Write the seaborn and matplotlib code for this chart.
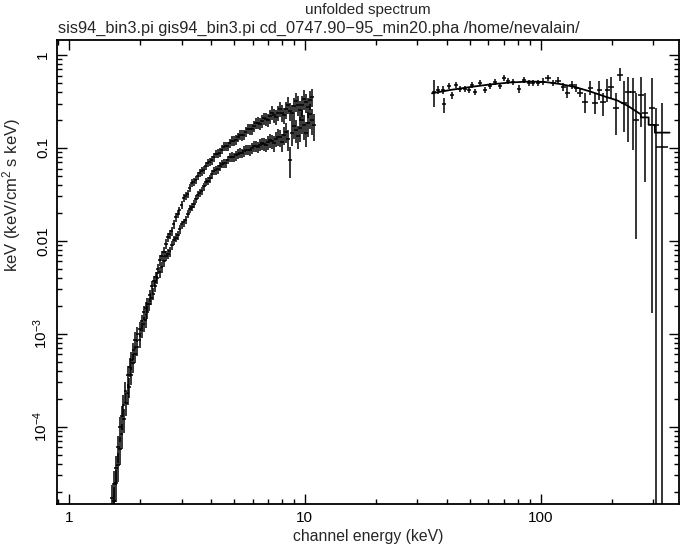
import numpy as np
import matplotlib
matplotlib.use("Agg")
import matplotlib.pyplot as plt
import matplotlib.ticker as mticker
import seaborn as sns

# SIS spectrum (upper band), energy in keV, flux in keV^2/(cm^2 s keV)
sis0_e = [1.52, 1.58, 1.64, 1.70, 1.77, 1.84, 1.91, 1.99, 2.07, 2.15,
          2.24, 2.33, 2.42, 2.52, 2.62, 2.72, 2.83, 2.94, 3.06, 3.18,
          3.31, 3.44, 3.58, 3.72, 3.87, 4.02, 4.18, 4.35, 4.52, 4.70,
          4.89, 5.09, 5.29, 5.50, 5.72, 5.95, 6.19, 6.44, 6.70, 6.96,
          7.24, 7.53, 7.83, 8.15, 8.47, 8.81, 9.16, 9.53, 9.91, 10.3, 10.7]
sis0_f = [1.7e-5, 3.6e-5, 9.8e-5, 1.72e-4, 3.6e-4, 5.2e-4, 8.6e-4, 1.12e-3, 1.70e-3, 2.08e-3,
          3.25e-3, 4.10e-3, 6.2e-3, 7.6e-3, 0.0109, 0.0128, 0.0180, 0.0212, 0.0290, 0.0322,
          0.0418, 0.0450, 0.0540, 0.0575, 0.0690, 0.0735, 0.0865, 0.0890, 0.1030, 0.1040,
          0.1190, 0.1215, 0.1380, 0.1390, 0.1610, 0.1600, 0.1840, 0.1830, 0.2080, 0.2010,
          0.2400, 0.2150, 0.2650, 0.2250, 0.2900, 0.2350, 0.3200, 0.2550, 0.3400, 0.2750, 0.3500]
sis0_rel = [0.40, 0.35, 0.30, 0.27, 0.25, 0.22, 0.20, 0.18, 0.17, 0.16,
            0.15, 0.14, 0.13, 0.12, 0.12, 0.11, 0.11, 0.10, 0.10, 0.10,
            0.10, 0.10, 0.10, 0.10, 0.10, 0.10, 0.11, 0.11, 0.11, 0.11,
            0.12, 0.12, 0.12, 0.13, 0.13, 0.14, 0.14, 0.15, 0.15, 0.16,
            0.17, 0.18, 0.19, 0.20, 0.21, 0.22, 0.23, 0.24, 0.25, 0.24, 0.22]
sis1_e = [1.55, 1.61, 1.67, 1.735, 1.805, 1.875, 1.95, 2.03, 2.11, 2.195,
          2.285, 2.375, 2.47, 2.57, 2.67, 2.775, 2.885, 3.00, 3.12, 3.245,
          3.375, 3.51, 3.65, 3.795, 3.945, 4.10, 4.265, 4.435, 4.61, 4.795,
          4.99, 5.19, 5.395, 5.61, 5.835, 6.07, 6.315, 6.57, 6.83, 7.10,
          7.385, 7.68, 7.99, 8.31, 8.64, 8.98, 9.34, 9.72, 10.1, 10.5]
sis1_f = [2.4e-5, 6.0e-5, 1.30e-4, 2.4e-4, 4.4e-4, 6.6e-4, 1.0e-3, 1.36e-3, 1.90e-3, 2.60e-3,
          3.7e-3, 5.0e-3, 6.9e-3, 9.3e-3, 0.0118, 0.0152, 0.0195, 0.0245, 0.0305, 0.0370,
          0.0430, 0.0500, 0.0560, 0.0640, 0.0710, 0.0800, 0.0870, 0.0960, 0.1040, 0.1120,
          0.1200, 0.1300, 0.1380, 0.1500, 0.1590, 0.1720, 0.1860, 0.1950, 0.2050, 0.2200,
          0.2250, 0.2400, 0.2400, 0.2600, 0.2500, 0.2800, 0.2900, 0.2900, 0.3100, 0.3300]
sis1_rel = [0.38, 0.33, 0.29, 0.26, 0.23, 0.21, 0.19, 0.18, 0.16, 0.15,
            0.14, 0.13, 0.13, 0.12, 0.11, 0.11, 0.10, 0.10, 0.10, 0.10,
            0.10, 0.10, 0.10, 0.10, 0.10, 0.11, 0.11, 0.11, 0.11, 0.12,
            0.12, 0.12, 0.13, 0.13, 0.14, 0.14, 0.15, 0.15, 0.16, 0.17,
            0.18, 0.19, 0.20, 0.21, 0.22, 0.23, 0.24, 0.25, 0.24, 0.23]

# GIS spectrum (lower band)
gis2_e = [1.55, 1.61, 1.67, 1.74, 1.80, 1.87, 1.95, 2.03, 2.11, 2.19,
          2.28, 2.37, 2.47, 2.57, 2.67, 2.78, 2.89, 3.00, 3.12, 3.25,
          3.38, 3.51, 3.65, 3.80, 3.95, 4.10, 4.27, 4.44, 4.61, 4.80,
          4.99, 5.19, 5.40, 5.61, 5.84, 6.07, 6.31, 6.57, 6.83, 7.10,
          7.38, 7.68, 7.99, 8.31, 8.64, 8.98, 9.34, 9.72, 10.1, 10.5, 10.9]
gis2_f = [1.6e-5, 3.9e-5, 8.3e-5, 1.80e-4, 2.7e-4, 4.9e-4, 7.2e-4, 1.10e-3, 1.40e-3, 2.10e-3,
          2.70e-3, 4.00e-3, 5.20e-3, 6.90e-3, 7.7e-3, 0.0102, 0.0116, 0.0150, 0.0168, 0.0221,
          0.0250, 0.0312, 0.0345, 0.0428, 0.0470, 0.0570, 0.0592, 0.0675, 0.0690, 0.0790,
          0.0795, 0.0870, 0.0875, 0.0955, 0.0950, 0.1040, 0.1020, 0.1120, 0.1070, 0.1210,
          0.1120, 0.1320, 0.1150, 0.1500, 0.0750, 0.1700, 0.1350, 0.2000, 0.1450, 0.2300, 0.1750]
gis2_rel = [0.40, 0.35, 0.30, 0.27, 0.25, 0.22, 0.20, 0.18, 0.17, 0.16,
            0.15, 0.14, 0.13, 0.12, 0.12, 0.11, 0.11, 0.10, 0.10, 0.10,
            0.10, 0.10, 0.10, 0.10, 0.10, 0.10, 0.11, 0.11, 0.11, 0.11,
            0.12, 0.12, 0.12, 0.13, 0.13, 0.14, 0.14, 0.15, 0.16, 0.17,
            0.19, 0.20, 0.22, 0.24, 0.36, 0.26, 0.28, 0.29, 0.30, 0.30, 0.32]
gis3_e = [1.58, 1.64, 1.705, 1.77, 1.835, 1.91, 1.99, 2.07, 2.15, 2.235,
          2.325, 2.42, 2.52, 2.62, 2.725, 2.835, 2.945, 3.06, 3.185, 3.315,
          3.445, 3.58, 3.725, 3.875, 4.025, 4.185, 4.355, 4.525, 4.705, 4.895,
          5.09, 5.295, 5.505, 5.725, 5.955, 6.19, 6.44, 6.70, 6.965, 7.24,
          7.53, 7.835, 8.15, 8.475, 8.81, 9.16, 9.53, 9.91, 10.3, 10.7]
gis3_f = [2.5e-5, 5.8e-5, 1.20e-4, 2.3e-4, 3.6e-4, 6.1e-4, 8.6e-4, 1.28e-3, 1.70e-3, 2.40e-3,
          3.30e-3, 4.6e-3, 6.0e-3, 7.3e-3, 9.0e-3, 0.0108, 0.0133, 0.0158, 0.0195, 0.0232,
          0.0282, 0.0330, 0.0385, 0.0445, 0.0520, 0.0580, 0.0640, 0.0680, 0.0745, 0.0800,
          0.0830, 0.0880, 0.0920, 0.0960, 0.0990, 0.1040, 0.1080, 0.1100, 0.1150, 0.1180,
          0.1250, 0.1300, 0.1380, 0.1250, 0.1450, 0.1550, 0.1650, 0.1750, 0.1850, 0.2000]
gis3_rel = [0.38, 0.33, 0.29, 0.26, 0.23, 0.21, 0.19, 0.18, 0.16, 0.15,
            0.14, 0.13, 0.13, 0.12, 0.11, 0.11, 0.10, 0.10, 0.10, 0.10,
            0.10, 0.10, 0.10, 0.10, 0.10, 0.11, 0.11, 0.11, 0.11, 0.12,
            0.12, 0.12, 0.13, 0.13, 0.14, 0.14, 0.15, 0.16, 0.17, 0.18,
            0.19, 0.21, 0.23, 0.25, 0.27, 0.28, 0.29, 0.30, 0.30, 0.31]

# hard X-ray spectrum (cd_0747.90-95_min20.pha)
hard_e = [35.3, 36.7, 38.6, 38.9, 40.7, 42.1, 43.8, 45.5, 47.8, 49.8,
          51.0, 52.7, 55.3, 58.1, 61.0, 64.1, 67.3, 70.0, 72.8, 76.4,
          81.0, 85.1, 89.3, 92.9, 97.5, 102.3, 107.5, 112.9, 118.5, 124.5,
          129.4, 135.8, 141.3, 146.9, 154.3, 162.1, 170.1, 176.9, 183.9, 191.3,
          198.9, 208.9, 217.3, 225.9, 234.9, 246.6, 254.0, 266.7, 277.4, 296.8,
          308.6, 327.2]
hard_f = [0.403, 0.420, 0.420, 0.297, 0.464, 0.371, 0.475, 0.430, 0.430, 0.420,
          0.475, 0.400, 0.500, 0.420, 0.464, 0.512, 0.464, 0.565, 0.530, 0.516,
          0.430, 0.538, 0.500, 0.500, 0.500, 0.516, 0.565, 0.500, 0.530, 0.456,
          0.393, 0.475, 0.441, 0.390, 0.315, 0.441, 0.304, 0.420, 0.315, 0.420,
          0.456, 0.267, 0.609, 0.304, 0.400, 0.400, 0.200, 0.371, 0.237, 0.269,
          0.177, 0.103]
hard_lo = [0.276, 0.385, 0.385, 0.237, 0.430, 0.340, 0.440, 0.400, 0.400, 0.390,
           0.440, 0.370, 0.460, 0.390, 0.430, 0.475, 0.430, 0.520, 0.490, 0.480,
           0.390, 0.500, 0.460, 0.460, 0.460, 0.475, 0.520, 0.460, 0.490, 0.410,
           0.344, 0.430, 0.400, 0.350, 0.240, 0.370, 0.230, 0.330, 0.220, 0.310,
           0.340, 0.138, 0.520, 0.150, 0.116, 0.095, 0.0105, 0.168, 0.0433, 0.00168,
           1e-6, 1e-6]
hard_hi = [0.538, 0.460, 0.460, 0.344, 0.500, 0.400, 0.510, 0.460, 0.460, 0.450,
           0.510, 0.430, 0.540, 0.450, 0.500, 0.550, 0.500, 0.610, 0.570, 0.555,
           0.470, 0.580, 0.540, 0.540, 0.540, 0.560, 0.610, 0.540, 0.575, 0.500,
           0.475, 0.520, 0.490, 0.430, 0.390, 0.520, 0.390, 0.530, 0.390, 0.550,
           0.580, 0.390, 0.720, 0.530, 0.580, 0.565, 0.390, 0.580, 0.390, 0.560,
           0.270, 0.304]
hard_hw = [0.7, 0.7, 0.8, 0.8, 0.8, 0.8, 0.9, 0.9, 1.0, 1.0,
           1.0, 1.1, 1.1, 1.2, 1.2, 1.3, 1.4, 1.4, 1.5, 1.5,
           1.6, 1.7, 1.8, 1.9, 2.0, 2.5, 2.7, 2.8, 3.0, 3.1,
           3.2, 3.4, 3.5, 3.7, 3.9, 4.0, 4.3, 4.4, 4.6, 4.8,
           5.0, 6.3, 6.5, 6.8, 7.0, 7.4, 7.6, 8.0, 8.3, 8.9,
           9.3, 18.0]

# folded model for the hard band
model_e = [34.6, 41.3, 50.2, 61.0, 74.2, 90.2, 104.5, 120.9, 139.9, 162.1, 187.4,
           211.4, 234.9, 256.8, 266.0, 266.0, 287.0, 287.0, 305.0, 305.0, 352.0]
model_f = [0.387, 0.420, 0.452, 0.482, 0.506, 0.518, 0.512, 0.487, 0.452, 0.405, 0.357,
           0.324, 0.282, 0.243, 0.230, 0.213, 0.213, 0.177, 0.177, 0.146, 0.146]

ytick_vals = [1e-4, 1e-3, 1e-2, 1e-1, 1]
ytick_labels = ["10$^{-4}$", "10$^{-3}$", "0.01", "0.1", "1"]
xtick_vals = [1, 10, 100]
xtick_labels = ["1", "10", "100"]

sns.set_theme(style="ticks")
plt.rcParams["font.family"] = ["Liberation Sans", "DejaVu Sans"]
plt.rcParams["mathtext.fontset"] = "custom"
plt.rcParams["mathtext.rm"] = "Liberation Sans"
plt.rcParams["mathtext.it"] = "Liberation Sans"

W, H = 680, 549
fig = plt.figure(figsize=(W / 100, H / 100), dpi=100)
ax = fig.add_axes([57 / W, 1 - 504 / H, (679 - 57) / W, (504 - 40) / H])

# low-energy detectors, error bars only (xspec style crosses)
for e, f, rel in [(sis0_e, sis0_f, sis0_rel), (sis1_e, sis1_f, sis1_rel),
                  (gis2_e, gis2_f, gis2_rel), (gis3_e, gis3_f, gis3_rel)]:
    e = np.array(e)
    f = np.array(f)
    ax.errorbar(e, f, yerr=f * np.array(rel), xerr=0.018 * e,
                fmt="none", ecolor="black", elinewidth=1.1, capsize=0)

hard_f = np.array(hard_f)
ax.errorbar(hard_e, hard_f,
            yerr=[hard_f - np.array(hard_lo), np.array(hard_hi) - hard_f],
            xerr=hard_hw, fmt="none", ecolor="black", elinewidth=1.1, capsize=0)

sns.lineplot(x=model_e, y=model_f, ax=ax, color="black", linewidth=1.3,
             sort=False, estimator=None)

ax.set_xscale("log")
ax.set_yscale("log")
ax.set_xlim(0.889, 386)
ax.set_ylim(1.47e-5, 1.45)

ax.yaxis.set_major_locator(mticker.FixedLocator(ytick_vals))
ax.yaxis.set_major_formatter(mticker.FixedFormatter(ytick_labels))
ax.xaxis.set_major_locator(mticker.FixedLocator(xtick_vals))
ax.xaxis.set_major_formatter(mticker.FixedFormatter(xtick_labels))
ax.yaxis.set_minor_locator(mticker.LogLocator(base=10, subs=np.arange(2, 10), numticks=20))
ax.xaxis.set_minor_locator(mticker.LogLocator(base=10, subs=np.arange(2, 10), numticks=20))
ax.yaxis.set_minor_formatter(mticker.NullFormatter())
ax.xaxis.set_minor_formatter(mticker.NullFormatter())

ax.tick_params(which="both", direction="in", top=True, right=True,
               colors="black", width=1, labelsize=11)
ax.tick_params(which="major", length=7, pad=5)
ax.tick_params(which="minor", length=3.5)
for lbl in ax.get_yticklabels():
    lbl.set_rotation(90)
    lbl.set_va("center")
for sp in ax.spines.values():
    sp.set_linewidth(1.3)
    sp.set_color("black")

ax.set_xlabel("channel energy (keV)", fontsize=11.3, labelpad=3)
ax.set_ylabel("keV (keV/cm$^2$ s keV)", fontsize=12)
ax.yaxis.set_label_coords((23 - 57) / 622, (504 - 195) / 464)

fig.text(368 / W, 1 - 10 / H, "unfolded spectrum", ha="center", va="center", fontsize=11)
fig.text(58 / W, 1 - 28 / H,
         "sis94_bin3.pi gis94_bin3.pi cd_0747.90\u221295_min20.pha /home/nevalain/",
         ha="left", va="center", fontsize=11.8)

fig.savefig("out.png", dpi=100)
